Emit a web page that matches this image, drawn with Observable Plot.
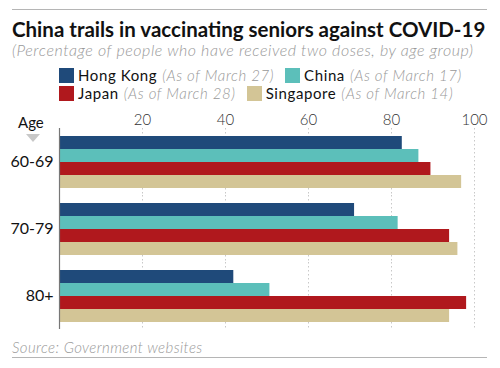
<!DOCTYPE html>
<html>
<head>
<meta charset="utf-8">
<script src="https://cdn.jsdelivr.net/npm/d3@7"></script>
<script src="https://cdn.jsdelivr.net/npm/@observablehq/plot@0.6"></script>
<style>
  html, body { margin: 0; padding: 0; background: #fff; }
  #wrap { position: relative; width: 500px; height: 368px; overflow: hidden; font-family: Lato, "Open Sans", sans-serif; }
  .rule { position: absolute; left: 12px; width: 475px; height: 0; border-top: 1px solid #b5b5b5; }
  #title { position: absolute; left: 12px; top: 17px; font-size: 20.5px; font-weight: 700; color: #111; white-space: nowrap; }
  #subtitle { position: absolute; left: 12px; top: 40px; font-size: 16px; letter-spacing: 0.55px; font-style: italic; font-weight: 300; color: #999; white-space: nowrap; }
  .legrow { position: absolute; left: 59px; height: 18px; line-height: 18px; display: flex; align-items: center; white-space: nowrap; font-size: 15px; letter-spacing: 0.6px; color: #111; }
  .sw { width: 15px; height: 15px; margin-right: 4px; display: inline-block; }
  .item { display: flex; align-items: center; margin-right: 11px; }
  .note { font-style: italic; font-weight: 300; color: #999; margin-left: 5px; }
  #age { position: absolute; left: 18px; top: 113px; font-size: 15px; color: #111; }
  #tri { position: absolute; left: 26px; top: 134px; width: 0; height: 0; border-left: 7px solid transparent; border-right: 7px solid transparent; border-top: 8px solid #c8c8c8; }
  #chart { position: absolute; left: 0; top: 100px; }
  #source { position: absolute; left: 12px; top: 338px; font-size: 15px; letter-spacing: 0.4px; font-style: italic; font-weight: 300; color: #999; white-space: nowrap; }
</style>
</head>
<body>
<div id="wrap">
  <div class="rule" style="top:9px"></div>
  <div id="title">China trails in vaccinating seniors against COVID-19</div>
  <div id="subtitle">(Percentage of people who have received two doses, by age group)</div>
  <div id="leg1" class="legrow" style="top:66px"></div>
  <div id="leg2" class="legrow" style="top:84px"></div>
  <div id="age">Age</div>
  <div id="tri"></div>
  <div id="chart"></div>
  <div id="source">Source: Government websites</div>
  <div class="rule" style="top:357px"></div>
</div>
<script>
const ageGroups = ["60-69", "70-79", "80+"];
const countries = ["Hong Kong", "China", "Japan", "Singapore"];
const asOf = ["(As of March 27)", "(As of March 17)", "(As of March 28)", "(As of March 14)"];
const colors = ["#1f4a7a", "#5cbfba", "#b0181d", "#d3c596"];
const hongKong = [82.6, 71.1, 42.0];
const china = [86.6, 81.6, 50.7];
const japan = [89.5, 94.0, 98.1];
const singapore = [96.9, 96.0, 94.0];
const xTicks = [20, 40, 60, 80, 100];

const series = [hongKong, china, japan, singapore];
const data = [];
ageGroups.forEach((age, i) => {
  countries.forEach((c, j) => data.push({age, country: c, value: series[j][i]}));
});

// legend
const rows = [[0, 1], [2, 3]];
rows.forEach((r, k) => {
  const el = document.getElementById(k === 0 ? "leg1" : "leg2");
  r.forEach(j => {
    const it = document.createElement("div");
    it.className = "item";
    it.innerHTML = `<span class="sw" style="background:${colors[j]}"></span><span>${countries[j]}</span><span class="note">${asOf[j]}</span>`;
    el.appendChild(it);
  });
});

const chart = Plot.plot({
  width: 500,
  height: 235,
  marginTop: 28,
  marginBottom: 6,
  marginLeft: 59,
  marginRight: 26,
  style: { fontFamily: "Lato, 'Open Sans', sans-serif", background: "transparent" },
  x: { domain: [0, 100], axis: null },
  y: { domain: countries, axis: null, paddingInner: 0, paddingOuter: 0.48 },
  fy: { domain: ageGroups, padding: 0, label: null },
  color: { domain: countries, range: colors },
  marks: [
    Plot.ruleX(xTicks, { stroke: "#c8c8c8", strokeDasharray: "1.5,2.5", strokeWidth: 1 }),
    Plot.barX(data, { x: "value", y: "country", fy: "age", fill: "country", inset: 0 }),
    Plot.ruleX([0], { stroke: "#777", strokeWidth: 1.2 }),
    Plot.axisX(xTicks, { anchor: "top", tickSize: 0, tickPadding: 4, fontSize: 15, fill: "#333", fontWeight: 300, facetAnchor: "top", label: null }),
    Plot.axisFy({ anchor: "left", tickSize: 0, tickPadding: 6, fontSize: 16, fill: "#111", label: null })
  ]
});
document.getElementById("chart").appendChild(chart);
</script>
</body>
</html>
